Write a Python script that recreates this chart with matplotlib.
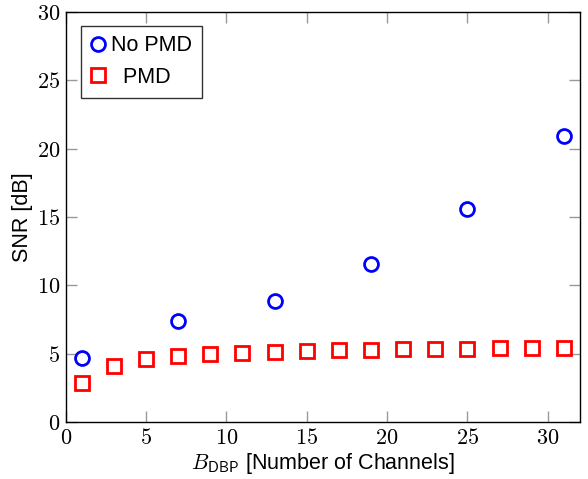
import matplotlib
matplotlib.use("Agg")
import matplotlib.pyplot as plt
from matplotlib.ticker import FuncFormatter, MultipleLocator

plt.rcParams['mathtext.fontset'] = 'cm'
plt.rcParams['font.family'] = ['Liberation Sans', 'DejaVu Sans']

x_nopmd = [1, 7, 13, 19, 25, 31]
snr_nopmd = [4.66, 7.41, 8.85, 11.55, 15.56, 20.95]
x_pmd = [1, 3, 5, 7, 9, 11, 13, 15, 17, 19, 21, 23, 25, 27, 29, 31]
snr_pmd = [2.88, 4.10, 4.59, 4.83, 4.95, 5.02, 5.10, 5.18, 5.24, 5.30, 5.32, 5.34, 5.37, 5.39, 5.39, 5.41]

fig = plt.figure(figsize=(5.88, 4.79), dpi=100)
ax = fig.add_axes([0.1117, 0.119, 0.9864 - 0.1117, 0.975 - 0.119])

ax.plot(x_nopmd, snr_nopmd, linestyle='none', marker='o', markersize=10,
        markerfacecolor='none', markeredgecolor='#0000ff', markeredgewidth=2, label='No PMD')
ax.plot(x_pmd, snr_pmd, linestyle='none', marker='s', markersize=10,
        markerfacecolor='none', markeredgecolor='#ff0000', markeredgewidth=2, label='  PMD')

ax.set_xlim(0, 32)
ax.set_ylim(0, 30)
ax.xaxis.set_major_locator(MultipleLocator(5))
ax.yaxis.set_major_locator(MultipleLocator(5))
fmt = FuncFormatter(lambda v, p: f"${v:g}$")
ax.xaxis.set_major_formatter(fmt)
ax.yaxis.set_major_formatter(fmt)
ax.tick_params(direction='in', length=8, width=1, color='#999999', labelsize=16,
               top=True, right=True, pad=4)
for s in ax.spines.values():
    s.set_linewidth(1.0)
    s.set_color('black')

ax.set_ylabel('SNR [dB]', fontsize=15.5, labelpad=3)
ax.set_xlabel(r'$B_{\mathsf{DBP}}$ [Number of Channels]', fontsize=15.5, labelpad=2)

leg = ax.legend(loc='upper left', bbox_to_anchor=(0.03, 0.967), fontsize=15.5,
                frameon=True, fancybox=False, edgecolor='black', handlelength=0.7,
                handletextpad=0.25, borderpad=0.45, labelspacing=0.5, borderaxespad=0)
leg.get_frame().set_linewidth(1.0)

fig.savefig('out.png', dpi=100)
